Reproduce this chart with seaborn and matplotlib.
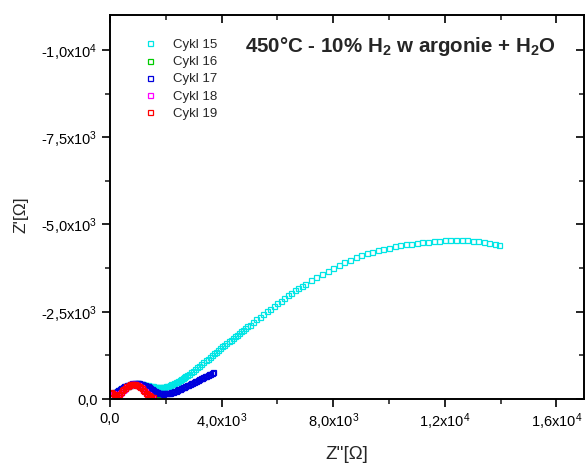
import numpy as np
import pandas as pd
import matplotlib
matplotlib.use("Agg")
import matplotlib.pyplot as plt
import seaborn as sns
from matplotlib.ticker import MultipleLocator, FuncFormatter
from matplotlib.lines import Line2D

sns.set_style("ticks")
plt.rcParams['font.family'] = ['Liberation Sans', 'DejaVu Sans']
plt.rcParams['mathtext.fontset'] = 'custom'
plt.rcParams['mathtext.rm'] = 'Liberation Sans'
plt.rcParams['mathtext.it'] = 'Liberation Sans:italic'
plt.rcParams['mathtext.bf'] = 'Liberation Sans:bold'

labels = ["Cykl 15", "Cykl 16", "Cykl 17", "Cykl 18", "Cykl 19"]
colors = ["#00E5E5", "#00CC00", "#0000DD", "#FF00FF", "#FF0000"]

c15_re = [100, 150, 200, 250, 300, 350, 400, 450, 500, 550, 600, 650, 700, 750,
          800, 850, 900, 950, 1000, 1050, 1100, 1150, 1200, 1250, 1300, 1350,
          1400, 1450, 1500, 1550, 1600, 1650, 1700, 1750, 1800, 1850, 1900,
          1950, 2000, 2050, 2100, 2150, 2200, 2250, 2300, 2350, 2400, 2450,
          2500, 2550, 2600, 2650, 2700, 2750, 2825, 2900, 2975, 3050, 3125,
          3200, 3275, 3350, 3425, 3500, 3575, 3650, 3725, 3800, 3875, 3950,
          4025, 4100, 4175, 4250, 4325, 4400, 4475, 4550, 4625, 4700, 4775,
          4850, 4925, 5000, 5125, 5250, 5375, 5500, 5625, 5750, 5875, 6000,
          6125, 6250, 6375, 6500, 6625, 6750, 6875, 7000, 7200, 7400,
          7600, 7800, 8000, 8200, 8400, 8600, 8800, 9000, 9200, 9400, 9600,
          9800, 10000, 10200, 10400, 10600, 10800, 11000, 11200, 11400, 11600,
          11800, 12000, 12200, 12400, 12600, 12800, 13000, 13200, 13400, 13600,
          13800, 13950]
c15_im = [160, 185, 210, 235, 260, 285, 305, 325, 345, 365, 380, 395, 410, 420,
          430, 438, 443, 446, 446, 444, 440, 434, 426, 416, 405, 395,
          385, 376, 368, 361, 355, 350, 347, 345, 344, 345, 348,
          353, 362, 372, 385, 400, 417, 435, 455, 476, 498, 521,
          545, 570, 596, 622, 648, 675, 715, 760, 808, 855, 905,
          955, 1005, 1055, 1105, 1155, 1205, 1255, 1305, 1355, 1405, 1455,
          1505, 1555, 1603, 1650, 1698, 1745, 1793, 1840, 1888, 1935, 1983,
          2030, 2078, 2125, 2203, 2281, 2359, 2437, 2515, 2593, 2670, 2745,
          2820, 2895, 2968, 3040, 3110, 3178, 3244, 3305, 3400, 3495,
          3590, 3680, 3765, 3845, 3920, 3990, 4055, 4115, 4170, 4215, 4260,
          4300, 4335, 4370, 4400, 4430, 4455, 4475, 4495, 4510, 4525,
          4540, 4552, 4560, 4565, 4560, 4550, 4535, 4515, 4495, 4475,
          4450, 4410]

c16_re = [100, 150, 200, 250, 300, 350, 400, 450, 500, 550, 600, 650, 700, 750,
          800, 850, 900, 950, 1000, 1050, 1100, 1150, 1200, 1250, 1300, 1350,
          1400, 1450, 1500, 1550, 1600, 1650, 1700]
c16_im = [175, 180, 190, 205, 225, 250, 275, 300, 325, 345, 365, 385, 400, 412,
          422, 428, 430, 428, 422, 412, 400, 385, 365, 340, 310, 280,
          250, 220, 195, 175, 160, 150, 145]

c17_re = [100, 150, 200, 250, 300, 350, 400, 450, 500, 550, 600, 650, 700, 750,
          800, 850, 900, 950, 1000, 1050, 1100, 1150, 1200, 1250, 1300, 1350,
          1400, 1450, 1500, 1550, 1600, 1650, 1700, 1750, 1800, 1850, 1900,
          1950, 2000, 2050, 2100, 2150, 2200, 2250, 2300, 2350, 2400, 2450,
          2500, 2550, 2600, 2650, 2700, 2750, 2800, 2850, 2900, 2950, 3000,
          3050, 3100, 3150, 3200, 3250, 3300, 3350, 3400, 3450, 3500, 3550,
          3600, 3650, 3700]
c17_im = [170, 190, 215, 240, 265, 290, 315, 340, 360, 380, 400, 415, 430, 440,
          450, 455, 458, 458, 455, 450, 440, 430, 415, 400, 380, 360,
          335, 310, 285, 260, 235, 210, 190, 175, 165, 160, 158,
          160, 163, 168, 175, 185, 195, 210, 225, 240, 255, 275,
          295, 315, 335, 355, 375, 393, 410, 430, 450, 470, 490,
          510, 530, 550, 570, 590, 610, 630, 650, 670, 690, 710,
          730, 750, 770]

c18_re = [50, 100, 150, 200, 250, 300, 350, 400, 450, 500, 550, 600, 650, 700,
          750, 800, 850, 900, 950, 1000, 1050, 1100, 1150, 1200, 1250, 1300,
          1350, 1400, 1450, 1500]
c18_im = [185, 160, 130, 110, 105, 125, 165, 210, 255, 295, 330, 360, 385, 403,
          418, 426, 428, 424, 413, 397, 373, 343, 308, 268, 225, 182,
          142, 108, 82, 62]

c19_re = [30, 80, 130, 180, 230, 280, 330, 380, 430, 480, 530, 580, 630, 680,
          730, 780, 830, 880, 930, 980, 1030, 1080, 1130, 1180, 1230, 1280,
          1330, 1380, 1430, 1480, 1530]
c19_im = [190, 170, 145, 115, 100, 110, 150, 200, 250, 295, 330, 360, 385, 405,
          420, 428, 430, 425, 415, 400, 375, 345, 310, 270, 225, 180,
          140, 105, 80, 60, 45]

series_re = [c15_re, c16_re, c17_re, c18_re, c19_re]
series_im = [c15_im, c16_im, c17_im, c18_im, c19_im]

frames = []
for lab, re, im in zip(labels, series_re, series_im):
    frames.append(pd.DataFrame({"re": re, "im": [-v for v in im], "cycle": lab}))
df = pd.concat(frames, ignore_index=True)

# ---- figure ----
fig = plt.figure(figsize=(5.87, 4.70), dpi=100)
ax = fig.add_axes([0.1874, 0.151, 0.808, 0.817])

for lab, col in zip(labels, colors):
    sub = df[df["cycle"] == lab]
    sns.lineplot(data=sub, x="re", y="im", sort=False, estimator=None, ax=ax,
                 linestyle="", marker="s", markersize=3.6,
                 markerfacecolor="none", markeredgecolor=col,
                 markeredgewidth=0.9, color=col, legend=False)

ax.set_xlim(0, 17000)
ax.set_ylim(0, -11000)


def sci_fmt(v, pos):
    if abs(v) < 1e-9:
        return "0,0"
    exp = int(np.floor(np.log10(abs(v))))
    mant = v / 10 ** exp
    return ("%.1f" % mant).replace(".", ",") + "x10$^{%d}$" % exp


ax.xaxis.set_major_locator(MultipleLocator(4000))
ax.xaxis.set_minor_locator(MultipleLocator(2000))
ax.yaxis.set_major_locator(MultipleLocator(2500))
ax.yaxis.set_minor_locator(MultipleLocator(1250))
ax.xaxis.set_major_formatter(FuncFormatter(sci_fmt))
ax.yaxis.set_major_formatter(FuncFormatter(sci_fmt))

ax.tick_params(which="major", direction="out", length=6, width=1.2,
               labelsize=10.5, pad=3, colors="black")
ax.tick_params(which="minor", direction="out", length=3.5, width=1.2)

# mirrored ticks on top/right drawn inward
ax.tick_params(axis="x", which="both", top=True, labeltop=False)
ax.tick_params(axis="y", which="both", right=True, labelright=False)
for t in ax.xaxis.get_major_ticks() + ax.xaxis.get_minor_ticks():
    t.tick2line.set_marker(3)
for t in ax.yaxis.get_major_ticks() + ax.yaxis.get_minor_ticks():
    t.tick2line.set_marker(0)

for s in ax.spines.values():
    s.set_linewidth(1.4)
    s.set_color("black")

ax.set_xlabel("Z''[\u03a9]", fontsize=13.5, labelpad=10)
ax.set_ylabel("Z'[\u03a9]", fontsize=12.5)
ax.yaxis.set_label_coords(-0.172, 0.48)

ax.text(0.285, 0.917, r"450°C - 10% H$_\mathbf{2}$ w argonie + H$_\mathbf{2}$O",
        transform=ax.transAxes, fontsize=14.8, fontweight="bold",
        ha="left", va="center")

handles = [Line2D([], [], linestyle="", marker="s", markersize=3.6,
                  markerfacecolor="none", markeredgecolor=c, markeredgewidth=0.9)
           for c in colors]
ax.legend(handles, labels, loc="upper left", bbox_to_anchor=(0.06, 0.952),
          frameon=False, fontsize=9.5, handlelength=1.0, handletextpad=1.2,
          labelspacing=0.38, borderaxespad=0)

fig.savefig("out.png", dpi=100)
